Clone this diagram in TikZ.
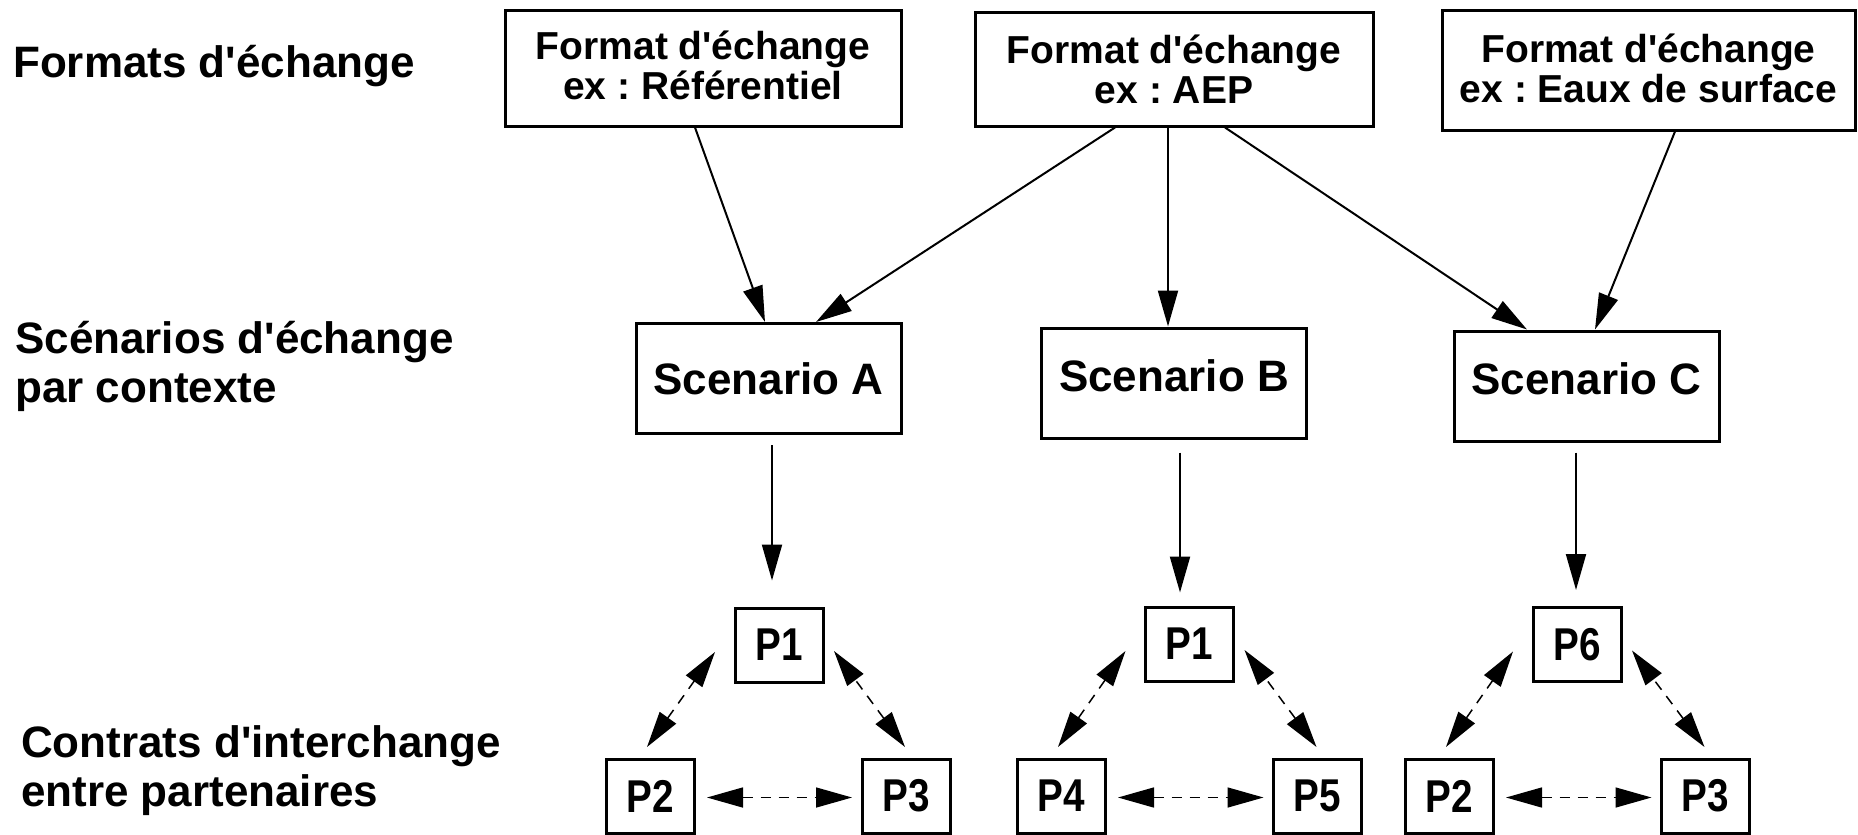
\documentclass[tikz,border=0pt]{standalone}
\usepackage{fontspec}
\setmainfont{Liberation Sans}[Ligatures=TeXOff]
\usetikzlibrary{positioning,calc,arrows.meta}

\newcommand\plabel[1]{\scalebox{0.84}[1]{#1}}

\tikzset{
  fmtbox/.style={draw, line width=3pt, inner sep=0pt, align=center,
    font=\frenchspacing\bfseries\fontsize{39}{40}\selectfont},
  scenbox/.style={draw, line width=3pt, inner sep=0pt,
    minimum width=265pt, minimum height=110pt, text height=32pt,
    font=\bfseries\fontsize{44}{49}\selectfont},
  partbox/.style={draw, line width=3pt, inner sep=0pt,
    minimum width=88pt, minimum height=74pt,
    font=\bfseries\fontsize{46}{48}\selectfont},
  rowlabel/.style={anchor=base west, inner sep=0pt, align=left,
    font=\bfseries\fontsize{44}{49}\selectfont},
  arr/.style={-{Triangle[length=36pt,width=20pt]}, line width=2pt},
  darr/.style={{Triangle[length=36pt,width=20pt]}-{Triangle[length=36pt,width=20pt]},
    line width=1.5pt, dash pattern=on 10pt off 8pt}
}

\begin{document}
\begin{tikzpicture}[x=1pt, y=-1pt]
  \useasboundingbox (0,0) rectangle (1858,835);

  % --- Row labels ---
  \node[rowlabel] (lblFormats) at (13,77) {Formats d'échange};
  \node[rowlabel] (lblScenarios) at (15,402) {Scénarios d'échange\\par contexte};
  \node[rowlabel] (lblContrats) at (21,806) {Contrats d'interchange\\entre partenaires};

  % --- Exchange formats ---
  \node[fmtbox, minimum width=396pt, minimum height=116pt] (fmtRef) at (703,68) {Format d'échange\\ex : Référentiel\rule[-6pt]{0pt}{0pt}};
  \node[fmtbox, minimum width=398pt, minimum height=114pt] (fmtAEP) at (1174,69) {Format d'échange\\ex : AEP};
  \node[fmtbox, minimum width=413pt, minimum height=120pt] (fmtEaux) at (1648.5,70) {Format d'échange\\ex : Eaux de surface\rule[-4pt]{0pt}{0pt}};

  % --- Scenarios ---
  \node[scenbox, text depth=0pt] (scenA) at (768.5,378.5) {Scenario A};
  \node[scenbox, text depth=16pt] (scenB) at (1174,383) {Scenario B};
  \node[scenbox, text depth=16pt] (scenC) at (1586.5,386) {Scenario C};

  % --- Partners ---
  \node[partbox] (pA1) at (779,645) {\plabel{P1}};
  \node[partbox] (pA2) at (650,796) {\plabel{P2}};
  \node[partbox] (pA3) at (906,796) {\plabel{P3}};
  \node[partbox] (pB1) at (1189.5,644) {\plabel{P1}};
  \node[partbox] (pB4) at (1061,796) {\plabel{P4}};
  \node[partbox] (pB5) at (1317.5,796) {\plabel{P5}};
  \node[partbox] (pC6) at (1577,644.5) {\plabel{P6}};
  \node[partbox] (pC2) at (1449,796) {\plabel{P2}};
  \node[partbox] (pC3) at (1705.5,796) {\plabel{P3}};

  % --- Formats to scenarios ---
  \draw[arr] ([xshift=-8pt]fmtRef.south) -- ([xshift=-3.5pt]scenA.north);
  \draw[arr] ([xshift=-59pt]fmtAEP.south) -- ([xshift=47.5pt]scenA.north);
  \draw[arr] ([xshift=-6pt]fmtAEP.south) -- ([xshift=-6pt]scenB.north);
  \draw[arr] ([xshift=51pt]fmtAEP.south) -- ([xshift=-59.5pt]scenC.north);
  \draw[arr] ([xshift=26.5pt]fmtEaux.south) -- ([xshift=8.5pt]scenC.north);

  % --- Scenarios to partners ---
  \draw[arr, shorten <=10pt, shorten >=26pt] ([xshift=3.5pt]scenA.south) -- ([xshift=-7pt]pA1.north);
  \draw[arr, shorten <=13pt, shorten >=13pt] ([xshift=6pt]scenB.south) -- ([xshift=-9.5pt]pB1.north);
  \draw[arr, shorten <=10pt, shorten >=16pt] ([xshift=-10.5pt]scenC.south) -- ([xshift=-1pt]pC6.north);

  % --- Contracts between partners ---
  \foreach \ptop/\pleft/\pright in {pA1/pA2/pA3, pB1/pB4/pB5, pC6/pC2/pC3} {
    \draw[darr] ($(\pleft)+(-3,-49)$) -- ($(\ptop)+(-64,7)$);
    \draw[darr] ($(\pright)+(-1,-49)$) -- ($(\ptop)+(55,6)$);
    \draw[darr] ($(\pleft)+(57,1.5)$) -- ($(\pright)+(-54,1.5)$);
  }
\end{tikzpicture}
\end{document}
